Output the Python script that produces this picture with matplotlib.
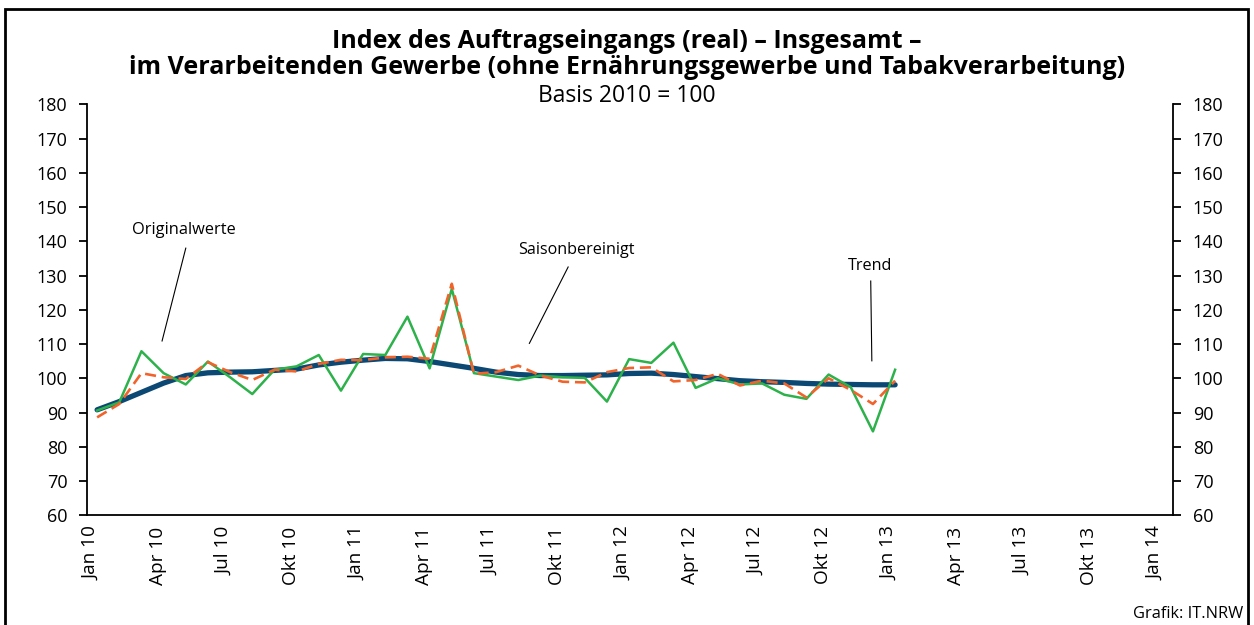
import matplotlib
matplotlib.use("Agg")
import matplotlib.pyplot as plt
import matplotlib.transforms as mtransforms
from matplotlib.patches import Rectangle

# ---------------- data ----------------
months = list(range(37))  # Jan 2010 .. Jan 2013
original = [90.6, 93.0, 107.9, 101.5, 98.2, 104.9, 100.3, 95.4, 102.5, 103.5, 106.8, 96.4,
            107.1, 106.8, 118.0, 102.9, 126.1, 101.5, 100.5, 99.5, 100.8, 100.3, 100.1, 93.2,
            105.6, 104.5, 110.4, 97.2, 100.0, 98.2, 98.5, 95.2, 94.0, 101.1, 97.4, 84.5,
            102.5]
saison = [88.6, 92.5, 101.5, 100.3, 99.8, 104.7, 101.8, 99.5, 102.5, 102.0, 104.2, 105.4,
          105.3, 106.1, 106.3, 105.7, 127.6, 101.3, 101.8, 103.7, 100.8, 99.0, 98.8, 101.8,
          103.0, 103.2, 99.1, 99.5, 101.3, 97.9, 99.3, 98.5, 94.4, 100.0, 96.6, 92.5,
          99.3]
trend = [90.8, 93.2, 95.9, 98.6, 100.8, 101.6, 101.8, 101.9, 102.3, 102.7, 103.9, 104.7,
         105.3, 105.8, 105.7, 104.9, 103.9, 102.9, 101.8, 101.1, 100.8, 100.8, 100.9, 101.0,
         101.4, 101.5, 101.1, 100.5, 99.9, 99.3, 99.0, 98.8, 98.5, 98.3, 98.2, 98.1,
         98.1]
tick_pos = list(range(0, 49, 3))
tick_labels = ["Jan 10", "Apr 10", "Jul 10", "Okt 10",
               "Jan 11", "Apr 11", "Jul 11", "Okt 11",
               "Jan 12", "Apr 12", "Jul 12", "Okt 12",
               "Jan 13", "Apr 13", "Jul 13", "Okt 13", "Jan 14"]
y_ticks = list(range(60, 181, 10))

title1 = "Index des Auftragseingangs (real) – Insgesamt –"
title2 = "im Verarbeitenden Gewerbe (ohne Ernährungsgewerbe und Tabakverarbeitung)"
subtitle = "Basis 2010 = 100"

# ---------------- style ----------------
FONT = "Open Sans"
plt.rcParams['font.family'] = [FONT, 'DejaVu Sans']

C_GREEN = "#2db14b"
C_ORANGE = "#f0642c"
C_NAVY = "#0b4873"

fig = plt.figure(figsize=(12.54, 6.25), dpi=100)
fig.patch.set_facecolor("white")

ax = fig.add_axes([86.7 / 1254, 1 - 515.3 / 625, (1173.3 - 86.7) / 1254, (515.3 - 104.3) / 625])

ax.plot(months, trend, color=C_NAVY, lw=3.8, solid_capstyle='round', zorder=2)
ax.plot(months, original, color=C_GREEN, lw=1.8, zorder=3)
ax.plot(months, saison, color=C_ORANGE, lw=1.9, dashes=(4.2, 2.2), zorder=4)

ax.set_xlim(-0.47, 48.55)
ax.set_ylim(60, 180)
ax.set_yticks(y_ticks)
ax.set_xticks(tick_pos)
ax.set_xticklabels(tick_labels, rotation=90, fontsize=13.7)

ax.spines['top'].set_visible(False)
for s in ['left', 'right', 'bottom']:
    ax.spines[s].set_linewidth(1.3)
ax.tick_params(axis='y', which='both', left=True, right=True, labelleft=True, labelright=True,
               direction='out', length=6, width=1.3, pad=8, labelsize=13)
ax.tick_params(axis='x', length=0, pad=8)

# shift x labels slightly left as in the reference
offset = mtransforms.ScaledTranslation(-6 / 100, 0, fig.dpi_scale_trans)
for lbl in ax.get_xticklabels():
    lbl.set_transform(lbl.get_transform() + offset)

# annotations
ax.text(3.93, 143.3, "Originalwerte", ha='center', va='center', fontsize=11.8)
ax.plot([4.0, 2.93], [138.0, 110.9], color='black', lw=0.8)
ax.text(21.6, 137.5, "Saisonbereinigt", ha='center', va='center', fontsize=11.6)
ax.plot([21.25, 19.5], [132.5, 110.2], color='black', lw=0.8)
ax.text(34.85, 132.8, "Trend", ha='center', va='center', fontsize=11.6)
ax.plot([34.9, 34.95], [128.4, 105.1], color='black', lw=0.8)

# titles
fig.text(0.5, 1 - 42 / 625, title1, ha='center', va='center', fontsize=18, fontweight='bold')
fig.text(0.5, 1 - 68 / 625, title2, ha='center', va='center', fontsize=18, fontweight='bold')
fig.text(0.5, 1 - 96 / 625, subtitle, ha='center', va='center', fontsize=16.5)

fig.text(1243 / 1254, 1 - 614 / 625, "Grafik: IT.NRW", ha='right', va='center', fontsize=11.8)

# outer frame
fig.patches.append(Rectangle((5 / 1254, -0.02), (1248 - 5) / 1254, 1 - 9 / 625 + 0.02,
                             transform=fig.transFigure, fill=False, edgecolor='black',
                             lw=2.0, zorder=10))

fig.savefig("out.png", dpi=100)
